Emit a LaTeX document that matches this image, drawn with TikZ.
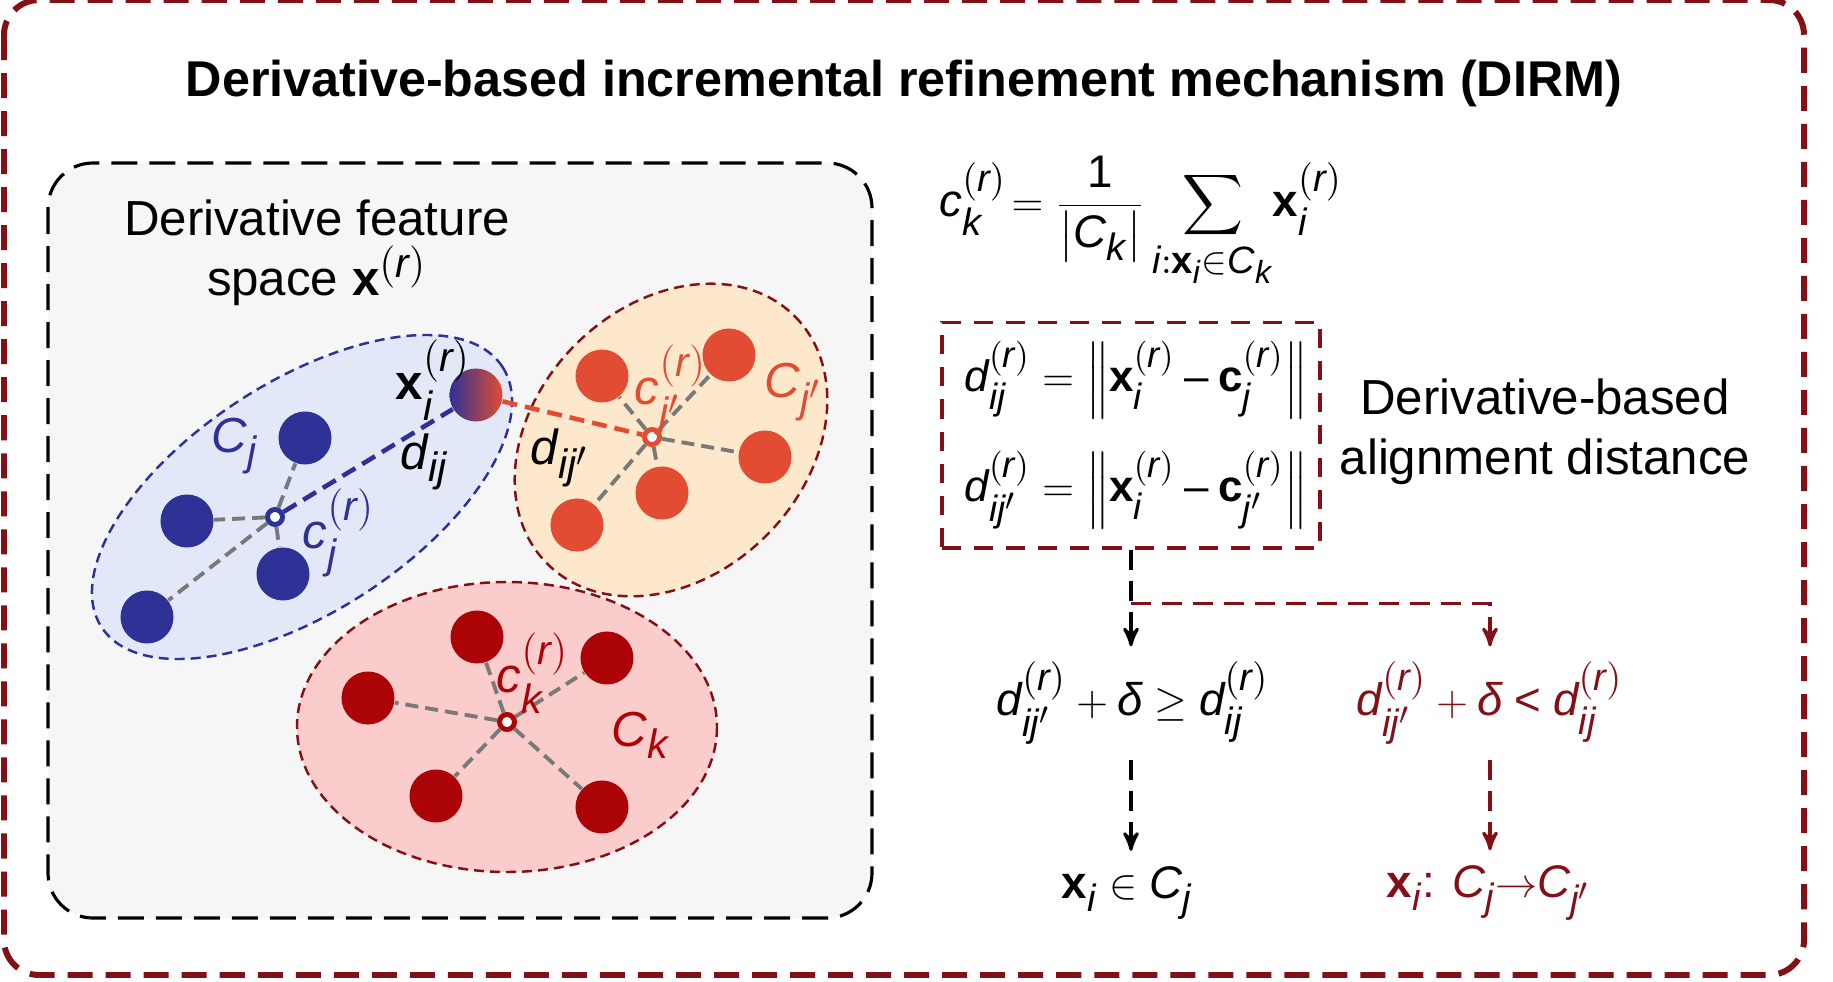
\documentclass[tikz,border=0pt]{standalone}
\usepackage{amsmath}
\usepackage{fontspec}
\setmainfont{Liberation Sans}
\usepackage[italic]{mathastext}
\usetikzlibrary{arrows, positioning}

\definecolor{framered}{RGB}{130,16,22}
\definecolor{ptblue}{RGB}{46,50,150}
\definecolor{bluefill}{RGB}{227,232,249}
\definecolor{ptorange}{RGB}{226,76,50}
\definecolor{orangefill}{RGB}{253,232,204}
\definecolor{ptred}{RGB}{172,4,6}
\definecolor{pinkfill}{RGB}{251,204,204}
\definecolor{boxgray}{RGB}{246,246,246}

\newcommand{\dlt}{\text{\itshape δ}}

\tikzset{
  >=stealth',
  outer/.style={framered, line width=1.7pt, dash pattern=on 0.25cm off 0.13cm, rounded corners=0.35cm},
  inner/.style={black, line width=0.9pt, dash pattern=on 0.26cm off 0.12cm, rounded corners=0.45cm, fill=boxgray},
  title/.style={font=\bfseries\fontsize{14.3}{17}\selectfont},
  txt/.style={font=\fontsize{14}{17}\selectfont, align=center, inner sep=0pt},
  lab/.style={font=\fontsize{14}{17}\selectfont, inner sep=0pt, anchor=west},
  eq/.style={font=\fontsize{13}{15}\selectfont, inner sep=0pt},
  pt/.style={circle, inner sep=0pt, minimum size=0.53cm},
  ptb/.style={pt, fill=ptblue},
  pto/.style={pt, fill=ptorange},
  ptr/.style={pt, fill=ptred},
  cen/.style={circle, line width=1.4pt, fill=white, inner sep=0pt, minimum size=0.15cm},
  clus/.style={line width=0.7pt, dash pattern=on 0.1cm off 0.06cm},
  spoke/.style={gray!95!black, line width=1.1pt, dash pattern=on 0.13cm off 0.07cm},
  dst/.style={line width=1.3pt, dash pattern=on 0.15cm off 0.08cm},
  distbox/.style={draw=framered, line width=1.1pt, dash pattern=on 0.19cm off 0.13cm, minimum width=3.77cm, minimum height=2.25cm},
  flowk/.style={->, line width=0.9pt, dash pattern=on 0.2cm off 0.11cm},
  flowr/.style={flowk, framered},
}

\begin{document}
\begin{tikzpicture}[x=0.01cm, y=-0.01cm]
    \useasboundingbox (0,0) rectangle (1833,982);

    % frames
    \draw[outer] (4,0) rectangle (1804,975);
    \draw[inner] (48,163) rectangle (872,918);
    \node[title] (ttl) at (904,83) {Derivative-based incremental refinement mechanism (DIRM)};
    \node[txt] (fsp) at (317,253) {Derivative feature\\space $\mathbf{x}^{(r)}$};

    % clusters
    \draw[clus, draw=ptblue, fill=bluefill, rotate around={33:(302,497)}] (302,497) ellipse (239 and 115);
    \draw[clus, draw=framered, fill=orangefill, rotate around={45:(671,440)}] (671,440) ellipse (175 and 135);
    \draw[clus, draw=framered, fill=pinkfill] (507,727) ellipse (210 and 145);

    % points
    \node[ptb] (bj1) at (305,438) {};
    \node[ptb] (bj2) at (187,521) {};
    \node[ptb] (bj3) at (283,574) {};
    \node[ptb] (bj4) at (147,617) {};
    \node[pt, left color=ptblue, right color=ptorange] (xi) at (476,395) {};
    \node[cen, draw=ptblue] (cj) at (275,517) {};

    \node[pto] (oj1) at (602,376) {};
    \node[pto] (oj2) at (729,355) {};
    \node[pto] (oj3) at (765,457) {};
    \node[pto] (oj4) at (662,493) {};
    \node[pto] (oj5) at (577,525) {};
    \node[cen, draw=ptorange] (cjp) at (652,437) {};

    \node[ptr] (rk1) at (477,637) {};
    \node[ptr] (rk2) at (607,658) {};
    \node[ptr] (rk3) at (368,698) {};
    \node[ptr] (rk4) at (436,796) {};
    \node[ptr] (rk5) at (602,807) {};
    \node[cen, draw=ptred] (ck) at (507,722) {};

    % spokes and distances
    \draw[spoke] (cj) -- (bj1) (cj) -- (bj2) (cj) -- (bj3) (cj) -- (bj4)
          (cjp) -- (oj1) (cjp) -- (oj2) (cjp) -- (oj3) (cjp) -- (oj4) (cjp) -- (oj5)
          (ck) -- (rk1) (ck) -- (rk2) (ck) -- (rk3) (ck) -- (rk4) (ck) -- (rk5);
    \draw[dst, ptblue] (cj) -- (xi);
    \draw[dst, ptorange] (xi) -- (cjp);

    % labels
    \node[lab, ptblue] (lcj) at (211,446) {$C_j$};
    \node[lab, ptblue] (lcjc) at (302,533) {$c_j^{(r)}$};
    \node[lab] (lxi) at (395,380) {$\mathbf{x}_i^{(r)}$};
    \node[lab] (ldij) at (400,462) {$d_{ij}$};
    \node[lab] (ldijp) at (530,458) {$d_{ij'}$};
    \node[lab, ptorange] (lcjpc) at (634,390) {$c_{j'}^{(r)}$};
    \node[lab, ptorange] (lcjp) at (764,392) {$C_{j'}$};
    \node[lab, ptred] (lckc) at (496,673) {$c_k^{(r)}$};
    \node[lab, ptred] (lck) at (611,735) {$C_k$};

    % formulas
    \node[eq] (cent) at (1141,222) {$\displaystyle c_k^{(r)}\! = \frac{\text{1}}{\left|C_k\right|}\sum_{i:\mathbf{x}_i\in C_k}\!\mathbf{x}_i^{(r)}$};
    \node[distbox] (dist) at (1131,435) {};
    \node[eq, anchor=west, font=\fontsize{12.5}{15}\selectfont] (dij) at (964,380) {$d_{ij}^{(r)} = \left\|\mathbf{x}_i^{(r)} - \mathbf{c}_j^{(r)}\right\|$};
    \node[eq, anchor=west, font=\fontsize{12.5}{15}\selectfont] (dijp) at (964,490) {$d_{ij'}^{(r)} = \left\|\mathbf{x}_i^{(r)} - \mathbf{c}_{j'}^{(r)}\right\|$};
    \node[txt] (ada) at (1545,432) {Derivative-based\\alignment distance};

    % decision
    \node[eq, inner sep=0.15cm] (keep) at (1133,703) {$d_{ij'}^{(r)} + \dlt \geq d_{ij}^{(r)}$};
    \node[eq, inner sep=0.15cm, framered] (move) at (1490,703) {$d_{ij'}^{(r)} + \dlt < d_{ij}^{(r)}$};
    \node[eq, inner sep=0.15cm] (resk) at (1127,893) {$\mathbf{x}_i \in C_j$};
    \node[eq, inner sep=0.15cm, framered] (resm) at (1489,893) {$\mathbf{x}_i$: $C_j{\rightarrow}C_{j'}$};
    \path (dist.south) ++(0,54) coordinate (split);

    \draw[flowk] (dist.south) -- (dist.south |- keep.north);
    \draw[flowr] (split) -| (move.north);
    \draw[flowk] (keep.south -| dist.south) -- (dist.south |- resk.north);
    \draw[flowr] (move.south) -- (move.north |- resm.north);
\end{tikzpicture}
\end{document}
